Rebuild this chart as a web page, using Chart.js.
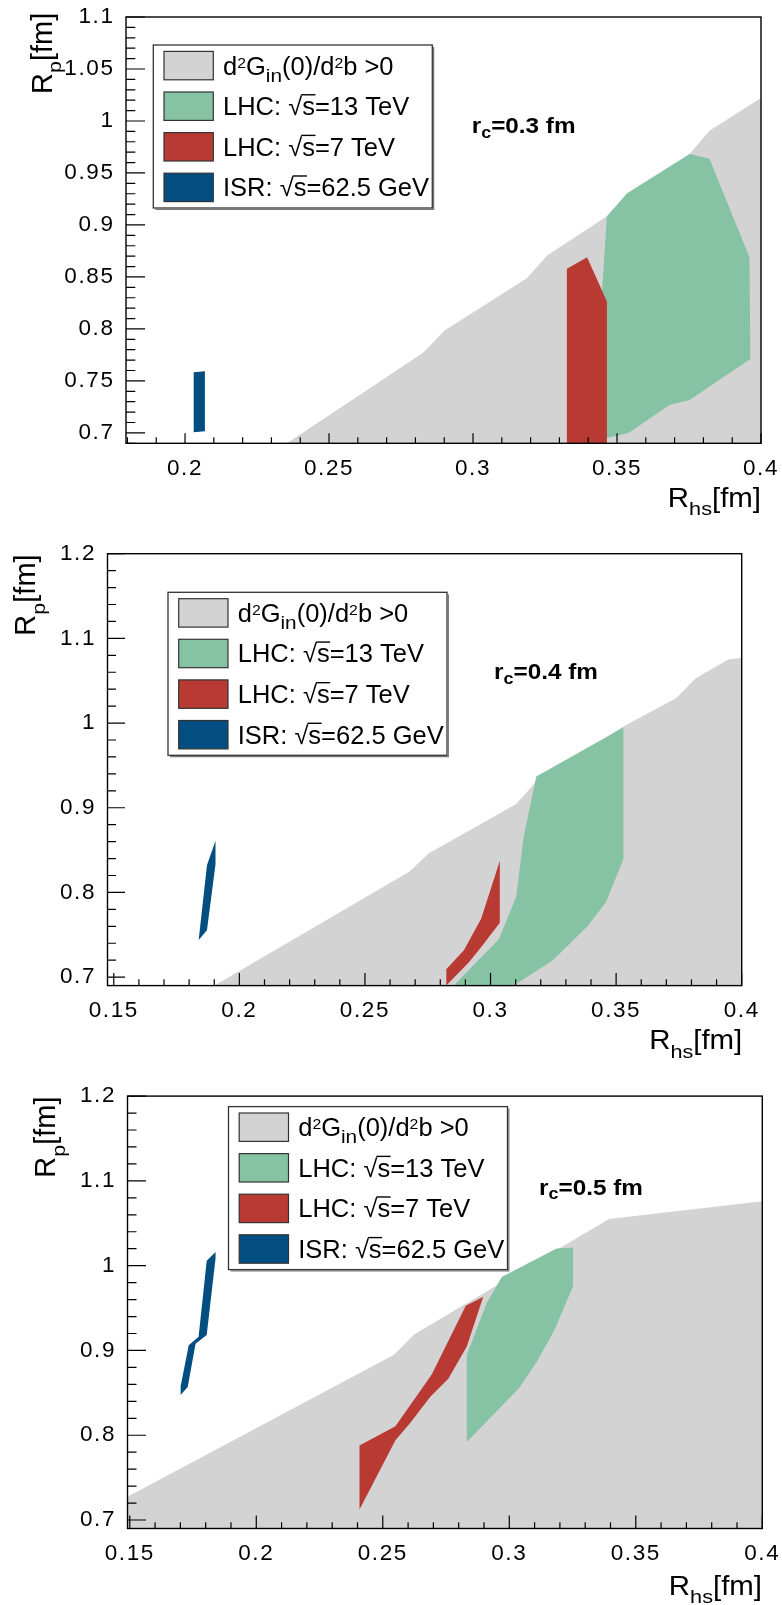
<!DOCTYPE html>
<html>
<head>
<meta charset="utf-8">
<title>R_p vs R_hs</title>
<script src="https://cdn.jsdelivr.net/npm/chart.js@4.4.1/dist/chart.umd.min.js"></script>
<style>
  html, body { margin: 0; padding: 0; background: #fff; }
  canvas { position: absolute; left: 0; }
</style>
</head>
<body>
<canvas id="panel1" width="782" height="520" style="top:0px"></canvas>
<canvas id="panel2" width="782" height="540" style="top:520px"></canvas>
<canvas id="panel3" width="782" height="545" style="top:1060px"></canvas>
<script>
const FONT = '"Liberation Sans", Arial, Helvetica, sans-serif';

// colours of the four regions
const GRAY = '#d3d3d3', GREEN = '#86c2a4', RED = '#b93a33', BLUE = '#034e81';

// legend text (same in every panel)
const legendLabels = ['d2Gin(0)/d2b >0', 'LHC: √s=13 TeV', 'LHC: √s=7 TeV', 'ISR: √s=62.5 GeV'];
const legendRich = [
  [{t: 'd'}, {t: '2', sup: true}, {t: 'G'}, {t: 'in', sub: true}, {t: '(0)/d'}, {t: '2', sup: true}, {t: 'b >0'}],
  [{t: 'LHC: √'}, {t: 's', bar: true}, {t: '=13 TeV'}],
  [{t: 'LHC: √'}, {t: 's', bar: true}, {t: '=7 TeV'}],
  [{t: 'ISR: √'}, {t: 's', bar: true}, {t: '=62.5 GeV'}]
];

// ---- panel 1 : r_c = 0.3 fm
const xTicks1 = [0.2, 0.25, 0.3, 0.35, 0.4];
const yTicks1 = [0.7, 0.75, 0.8, 0.85, 0.9, 0.95, 1, 1.05, 1.1];
const grayX1 = [0.2354, 0.2828, 0.2901, 0.3188, 0.3257, 0.3465, 0.3752, 0.3821, 0.4, 0.4];
const grayY1 = [0.69, 0.7773, 0.7985, 0.849, 0.8705, 0.9084, 0.9683, 0.9905, 1.022, 0.69];
const greenX1 = [0.3465, 0.3535, 0.3752, 0.3821, 0.3960, 0.3963, 0.3752, 0.3682, 0.3540, 0.3465, 0.3448];
const greenY1 = [0.9084, 0.9305, 0.9683, 0.9636, 0.8689, 0.7710, 0.7316, 0.7268, 0.7000, 0.6953, 0.8358];
const redX1 = [0.3326, 0.3396, 0.3465, 0.3465, 0.3326];
const redY1 = [0.8579, 0.8689, 0.8263, 0.69, 0.69];
const blueX1 = [0.2030, 0.2069, 0.2069, 0.2030];
const blueY1 = [0.7584, 0.7594, 0.7016, 0.7006];

// ---- panel 2 : r_c = 0.4 fm
const xTicks2 = [0.15, 0.2, 0.25, 0.3, 0.35, 0.4];
const yTicks2 = [0.7, 0.8, 0.9, 1, 1.1, 1.2];
const grayX2 = [0.1901, 0.2676, 0.2755, 0.3102, 0.3182, 0.3529, 0.3738, 0.3817, 0.3946, 0.4, 0.4];
const grayY2 = [0.69, 0.8244, 0.8463, 0.9045, 0.9309, 0.9959, 1.0293, 1.0528, 1.0752, 1.0772, 0.69];
const greenX2 = [0.3182, 0.3529, 0.3529, 0.3460, 0.3386, 0.3247, 0.3093, 0.2854, 0.3033, 0.3102, 0.3132];
const greenY2 = [0.9370, 0.9947, 0.8394, 0.7886, 0.7602, 0.7195, 0.69, 0.69, 0.7447, 0.7947, 0.8659];
const redX2 = [0.2824, 0.2894, 0.2963, 0.3037, 0.3037, 0.2963, 0.2914, 0.2824];
const redY2 = [0.7093, 0.7317, 0.7691, 0.8374, 0.7642, 0.7357, 0.7175, 0.69];
const blueX2 = [0.1905, 0.1905, 0.1871, 0.1838, 0.1871];
const blueY2 = [0.8610, 0.8333, 0.7553, 0.7439, 0.8321];

// ---- panel 3 : r_c = 0.5 fm
const xTicks3 = [0.15, 0.2, 0.25, 0.3, 0.35, 0.4];
const yTicks3 = [0.7, 0.8, 0.9, 1, 1.1, 1.2];
const grayX3 = [0.1491, 0.2546, 0.2625, 0.3394, 0.4, 0.4, 0.1491];
const grayY3 = [0.7274, 0.8953, 0.9191, 1.0550, 1.0759, 0.69, 0.69];
const greenX3 = [0.2832, 0.2832, 0.2911, 0.2970, 0.3187, 0.3252, 0.3252, 0.3177, 0.3108, 0.3039];
const greenY3 = [0.7921, 0.8945, 0.9559, 0.9866, 1.0202, 1.0215, 0.9756, 0.9232, 0.8863, 0.8556];
const redX3 = [0.2408, 0.2550, 0.2694, 0.2828, 0.2897, 0.2832, 0.2759, 0.2688, 0.2609, 0.2550, 0.2408];
const redY3 = [0.7880, 0.8106, 0.8720, 0.9527, 0.9633, 0.9047, 0.8667, 0.8454, 0.8147, 0.7942, 0.7123];
const blueX3 = [0.1701, 0.1733, 0.1772, 0.1804, 0.1839, 0.1839, 0.1804, 0.1760, 0.1729, 0.1701];
const blueY3 = [0.8577, 0.9060, 0.9162, 1.0059, 1.0161, 1.0084, 0.9183, 0.9080, 0.8568, 0.8474];

const fmt = v => String(Math.round(v * 1000) / 1000);

// draws a line of text with sub/superscripts and sqrt overline
function drawRich(ctx, parts, x, y, size, opt = {}) {
  const weight = opt.bold ? 'bold ' : '';
  const subK = opt.subK || 0.72, subSx = opt.subSx || 1, subDy = opt.subDy || 0.28;
  const supK = opt.supK || 0.62, supDy = opt.supDy || 0.27;
  ctx.save();
  ctx.letterSpacing = '0px';
  ctx.translate(x, y);
  if (opt.rotate) ctx.rotate(-Math.PI / 2);
  ctx.scale(opt.sx || 1, 1);
  let w = 0;
  const items = parts.map(p => {
    const s = p.sub ? size * subK : p.sup ? size * supK : size;
    const k = p.sub ? subSx : 1;
    ctx.font = weight + s + 'px ' + FONT;
    const pw = ctx.measureText(p.t).width * k;
    const it = {p, s, k, w: pw, x: w};
    w += pw;
    return it;
  });
  const x0 = opt.align === 'right' ? -w : 0;
  ctx.fillStyle = '#000';
  ctx.textAlign = 'left';
  ctx.textBaseline = 'alphabetic';
  for (const it of items) {
    ctx.font = weight + it.s + 'px ' + FONT;
    const dy = it.p.sub ? size * subDy : it.p.sup ? -size * supDy : 0;
    ctx.save();
    ctx.translate(x0 + it.x, dy);
    ctx.scale(it.k, 1);
    ctx.fillText(it.p.t, 0, 0);
    ctx.restore();
    if (it.p.bar) ctx.fillRect(x0 + it.x - 1, -size * 0.84, it.w + 1.5, Math.max(1.2, size * 0.055));
  }
  ctx.restore();
}

// ROOT-like frame, inward ticks, legend and titles
const rootStyle = {
  id: 'rootStyle',
  beforeDraw(chart) {
    chart.ctx.letterSpacing = '1.6px';
  },
  afterDatasetsDraw(chart, args, o) {
    const ctx = chart.ctx, a = chart.chartArea;
    const xs = chart.scales.x, ys = chart.scales.y;
    ctx.save();
    ctx.strokeStyle = '#000';
    ctx.lineWidth = 1.2;
    ctx.beginPath();
    const near = (v, arr) => arr.some(t => Math.abs(t - v) < 1e-6);
    for (let k = Math.ceil(xs.min / o.xMinor - 1e-6); k * o.xMinor <= xs.max + 1e-9; k++) {
      const v = k * o.xMinor;
      const px = xs.getPixelForValue(v);
      const len = near(v, o.xTicks) ? o.xMajorLen : o.xMinorLen;
      ctx.moveTo(px, a.bottom);
      ctx.lineTo(px, a.bottom - len);
    }
    for (let k = Math.ceil(ys.min / o.yMinor - 1e-6); k * o.yMinor <= ys.max + 1e-9; k++) {
      const v = k * o.yMinor;
      const py = ys.getPixelForValue(v);
      const len = near(v, o.yTicks) ? o.yMajorLen : o.yMinorLen;
      ctx.moveTo(a.left, py);
      ctx.lineTo(a.left + len, py);
    }
    ctx.stroke();
    ctx.lineWidth = 1.4;
    ctx.strokeRect(a.left, a.top, a.right - a.left, a.bottom - a.top);
    ctx.restore();
  },
  afterDraw(chart, args, o) {
    const ctx = chart.ctx;
    ctx.save();
    // legend box
    const L = o.legend, bw = 279, bh = 163;
    ctx.fillStyle = '#fff';
    ctx.fillRect(L.x, L.y, bw, bh);
    ctx.strokeStyle = '#333';
    ctx.lineWidth = 1.3;
    ctx.strokeRect(L.x, L.y, bw, bh);
    ctx.strokeStyle = '#777';
    ctx.beginPath();
    ctx.moveTo(L.x + bw + 1.3, L.y + 2);
    ctx.lineTo(L.x + bw + 1.3, L.y + bh + 1.3);
    ctx.lineTo(L.x + 2, L.y + bh + 1.3);
    ctx.stroke();
    chart.data.datasets.forEach((ds, i) => {
      const cy = L.y + 20.6 + i * 40.6;
      ctx.fillStyle = ds.backgroundColor;
      ctx.fillRect(L.x + 10.7, cy - 14.2, 49.3, 28.4);
      ctx.strokeStyle = '#333';
      ctx.lineWidth = 1.2;
      ctx.strokeRect(L.x + 10.7, cy - 14.2, 49.3, 28.4);
      drawRich(ctx, legendRich[i], L.x + 69.7, cy + 8.9, 25, {subK: 0.74, subSx: 1.1, subDy: 0.29, sx: 1.02});
    });
    // r_c label
    drawRich(ctx, [{t: 'r'}, {t: 'c', sub: true}, {t: o.rc.text}], o.rc.x, o.rc.y, 22.5,
      {bold: true, sx: 1.08, subK: 0.74, subDy: 0.2});
    // axis titles
    drawRich(ctx, [{t: 'R'}, {t: 'hs', sub: true}, {t: '[fm]'}], o.xTitle.x, o.xTitle.y, 27.5,
      {align: 'right', sx: 1.07, subK: 0.64, subSx: 1.15, subDy: 0.3});
    drawRich(ctx, [{t: 'R'}, {t: 'p', sub: true}, {t: '[fm]'}], o.yTitle.x, o.yTitle.y, 29,
      {align: 'right', rotate: true, sx: 1.0, subK: 0.62, subSx: 1.2, subDy: 0.33});
    ctx.restore();
  }
};

function region(label, color, xs, ys, order) {
  return {
    label: label,
    data: xs.map((x, i) => ({x: x, y: ys[i]})),
    showLine: true,
    fill: 'shape',
    backgroundColor: color,
    borderColor: color,
    borderWidth: 0,
    pointRadius: 0,
    tension: 0,
    order: order
  };
}

function makePanel(p) {
  const a = p.area;
  new Chart(document.getElementById(p.id), {
    type: 'scatter',
    data: {
      datasets: [
        region(legendLabels[0], GRAY, p.gray[0], p.gray[1], 4),
        region(legendLabels[1], GREEN, p.green[0], p.green[1], 3),
        region(legendLabels[2], RED, p.red[0], p.red[1], 2),
        region(legendLabels[3], BLUE, p.blue[0], p.blue[1], 1)
      ]
    },
    options: {
      responsive: false,
      animation: false,
      events: [],
      layout: {autoPadding: false, padding: {top: a.top, right: 782 - a.right, left: 0, bottom: 0}},
      scales: {
        x: {
          type: 'linear', min: p.xMin, max: 0.4,
          afterBuildTicks: s => { s.ticks = p.xTicks.map(v => ({value: v})); },
          afterFit: s => { s.height = p.h - a.bottom; },
          grid: {display: false}, border: {display: false},
          ticks: {font: {family: FONT, size: 22.5}, color: '#000', padding: 4, maxRotation: 0, autoSkip: false, callback: fmt}
        },
        y: {
          type: 'linear', min: 0.69, max: p.yMax,
          afterBuildTicks: s => { s.ticks = p.yTicks.map(v => ({value: v})); },
          afterFit: s => { s.width = a.left; },
          grid: {display: false}, border: {display: false},
          ticks: {font: {family: FONT, size: 22.5}, color: '#000', padding: 3.5, autoSkip: false, callback: fmt}
        }
      },
      plugins: {
        legend: {display: false},
        tooltip: {enabled: false},
        rootStyle: {
          xTicks: p.xTicks, yTicks: p.yTicks, xMinor: 0.01, yMinor: p.yMinor,
          xMajorLen: p.xLen[0], xMinorLen: p.xLen[1], yMajorLen: p.yLen[0], yMinorLen: p.yLen[1],
          legend: p.legend, rc: p.rc, xTitle: p.xTitle, yTitle: p.yTitle
        }
      }
    },
    plugins: [rootStyle]
  });
}

makePanel({
  id: 'panel1', h: 520, area: {left: 126, top: 11, right: 761, bottom: 443.3},
  xMin: 0.1795, yMax: 1.1, xTicks: xTicks1, yTicks: yTicks1, yMinor: 0.01,
  xLen: [10, 6], yLen: [19, 9.3],
  gray: [grayX1, grayY1], green: [greenX1, greenY1], red: [redX1, redY1], blue: [blueX1, blueY1],
  legend: {x: 153.3, y: 45}, rc: {x: 471.7, y: 133.3, text: '=0.3 fm'},
  xTitle: {x: 761, y: 506.7}, yTitle: {x: 51.7, y: 12.7}
});

makePanel({
  id: 'panel2', h: 540, area: {left: 107.5, top: 33.7, right: 741.7, bottom: 465.6},
  xMin: 0.1475, yMax: 1.2, xTicks: xTicks2, yTicks: yTicks2, yMinor: 0.02,
  xLen: [12.5, 6.3], yLen: [17.5, 8.5],
  gray: [grayX2, grayY2], green: [greenX2, greenY2], red: [redX2, redY2], blue: [blueX2, blueY2],
  legend: {x: 168, y: 72.3}, rc: {x: 494, y: 159.4, text: '=0.4 fm'},
  xTitle: {x: 742.3, y: 529.3}, yTitle: {x: 35, y: 34.4}
});

makePanel({
  id: 'panel3', h: 545, area: {left: 127.5, top: 36.1, right: 762.3, bottom: 468.5},
  xMin: 0.1491, yMax: 1.2, xTicks: xTicks3, yTicks: yTicks3, yMinor: 0.02,
  xLen: [13, 6.3], yLen: [18.5, 9],
  gray: [grayX3, grayY3], green: [greenX3, greenY3], red: [redX3, redY3], blue: [blueX3, blueY3],
  legend: {x: 228.5, y: 46.6}, rc: {x: 539, y: 134.9, text: '=0.5 fm'},
  xTitle: {x: 762, y: 535}, yTitle: {x: 55, y: 36.5}
});
</script>
</body>
</html>
